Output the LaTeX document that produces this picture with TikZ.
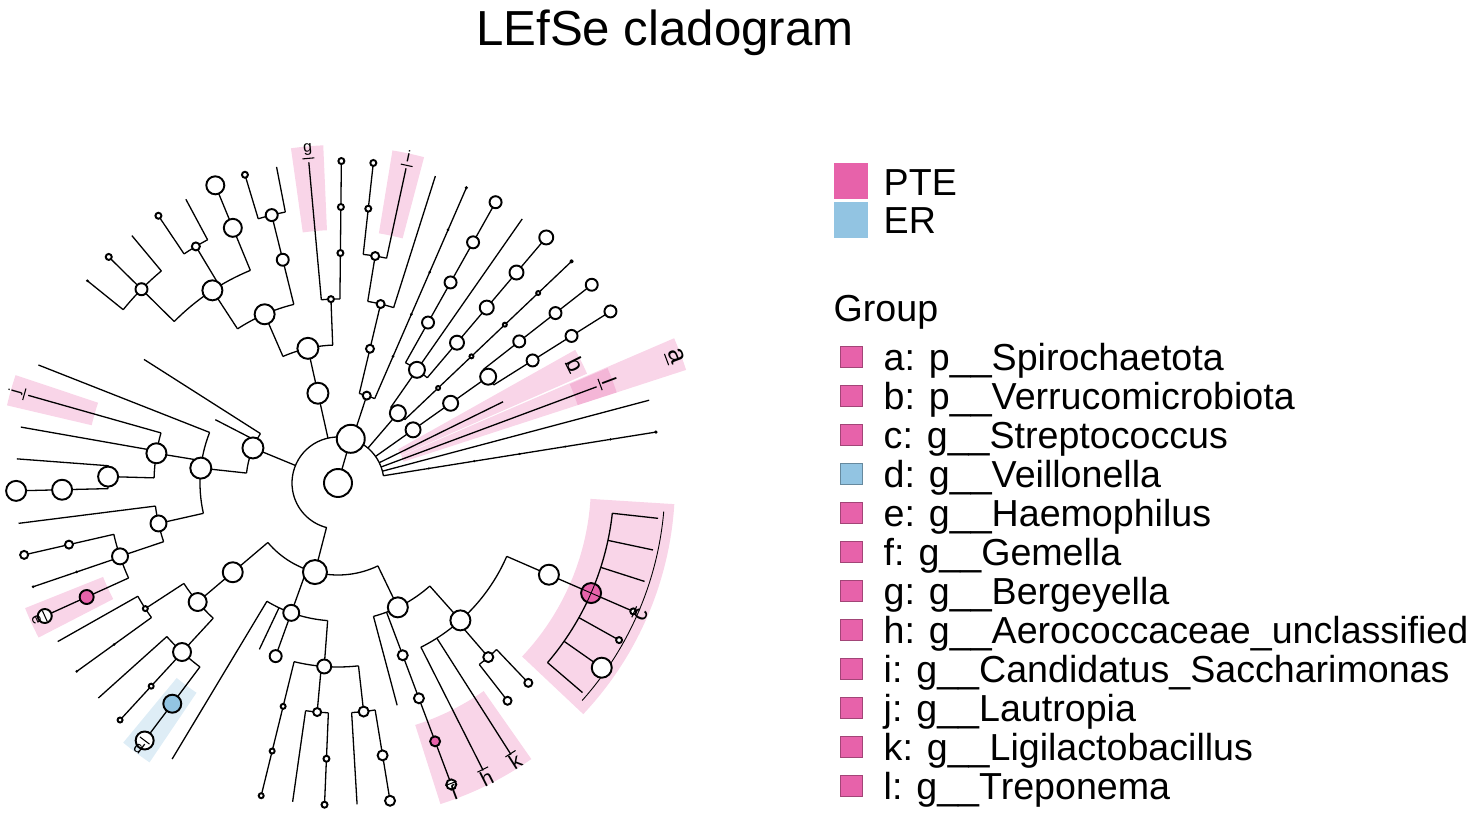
\documentclass[tikz,border=0pt]{standalone}
\usepackage{fontspec}
\setmainfont{Liberation Sans}
\definecolor{ptecol}{RGB}{231,98,170}
\definecolor{ercol}{RGB}{146,196,226}
\tikzset{
  cladeline/.style={line width=0.37pt},
  cladenode/.style={draw, line width=0.55pt, fill=white},
  cladetick/.style={line width=0.3pt},
  ptezone/.style={fill=ptecol, fill opacity=0.27},
  erzone/.style={fill=ercol, fill opacity=0.3},
  legendtext/.style={anchor=base west, inner sep=0pt, font=\fontsize{10.7}{12.8}\selectfont}
}
% annular sector behind a clade: start angle, end angle, inner radius, outer radius, style
\newcommand{\cladezone}[5]{%
  \fill[#5] (#1:#3) arc[start angle=#1, end angle=#2, radius=#3]
    -- (#2:#4) arc[start angle=#2, end angle=#1, radius=#4] -- cycle;}
% clade letter: angle, text radius, tick radius, letter, size
\newcommand{\cladeletter}[5]{%
  \draw[cladetick] (#1:#3) ++(#1+90:6) -- ++(#1-90:12);
  \node[rotate={#1>180 ? #1+90 : #1-90}, inner sep=0pt, font=\fontsize{#5}{#5}\selectfont] at (#1:#2) {#4};}
\begin{document}
\begin{tikzpicture}[x=0.1mm, y=0.1mm]
  \useasboundingbox (0,0) rectangle (1481,815);
  \node[anchor=base, inner sep=0pt, font=\fontsize{14}{16}\selectfont] (title) at (665,770) {LEfSe cladogram};

  \begin{scope}[shift={(338,332)}]
    % highlighted clades
    \cladezone{18}{23.3}{69}{366}{ptezone}
    \cladezone{23.7}{29.3}{69}{272}{ptezone}
    \cladezone{18}{23.1}{252}{293}{ptezone}
    \cladezone{316.7}{356.4}{253}{337}{ptezone}
    \cladezone{287.7}{305}{254}{337}{ptezone}
    \cladezone{201.8}{207.3}{253}{337}{ptezone}
    \cladezone{161.5}{166.8}{253}{340}{ptezone}
    \cladezone{92.5}{98}{253}{338}{ptezone}
    \cladezone{75.2}{80.7}{253}{337}{ptezone}
    \cladezone{230.4}{236}{253}{337}{erzone}

    % radial branches
    \foreach \a/\ra/\rb in {73.9/0/46,
      102.6/46/138, 113.5/138/184, 92.2/138/184, 95.2/184/322, 89.4/184/322,
      123.1/184/230, 103.9/184/276, 101/276/322, 106.8/276/322, 112.4/230/322,
      121/230/276, 118.2/276/322, 123.9/276/322, 135.4/230/322, 129.8/276/322, 141.1/276/322,
      157.6/46/92, 147.5/92/230, 152.7/92/138, 173.8/92/138, 158.5/138/322, 170.7/138/184,
      192.7/138/184, 164.2/184/322, 170/184/322, 178.4/184/230, 175.7/230/322, 181.4/230/322,
      187.2/184/322, 198.6/184/230, 192.9/230/322, 198.8/230/322, 204.4/230/322,
      255.5/46/92, 220.3/92/184, 250.2/92/184, 295.7/92/138, 213.1/184/230, 227.3/184/230,
      209.5/230/322, 215.8/230/322, 221.9/230/322, 227.4/230/322, 233.1/230/322,
      239/138/322, 244.7/138/184, 265.7/138/184, 256.2/184/322, 264.8/184/230, 276.4/184/230,
      261.9/230/322, 267.6/230/322, 273.4/230/322, 279.3/230/322,
      284.9/138/230, 290.6/138/322, 311.7/138/184, 296.8/184/322, 302.5/184/322,
      310.8/184/230, 336.5/184/322, 307.9/230/276, 313.6/230/276,
      319.4/276/322, 325/276/322, 330.8/276/322, 342.2/276/322, 348/276/322, 353.7/276/322,
      9.1/46/322, 14.9/46/322, 20.4/46/276, 26.2/46/184, 35.3/46/184, 32.2/184/322, 38/184/322,
      49.4/46/92, 43.5/92/322, 55.1/92/322, 49.7/138/322, 60.7/138/322,
      71.8/46/92, 66.5/92/322, 76.6/92/184, 72.4/184/322, 80.7/184/230, 77.8/230/322, 83.7/230/322}
      \draw[cladeline] (\a:\ra) -- (\a:\rb);

    % brackets
    \foreach \a/\b/\r in {9/256/46,
      92.1/113.5/138, 89.4/95.2/184, 103.9/123.1/184, 101/106.8/276, 112.4/135.4/230,
      118.2/123.9/276, 129.8/141.1/276,
      147.5/173.8/92, 158.5/192.7/138, 164.2/178.4/184, 175.7/181.4/230, 187.2/198.6/184, 192.9/204.4/230,
      220.3/295.7/92, 213.1/227.3/184, 209.5/215.8/230, 221.9/233.1/230, 239/265.7/138,
      256.2/276.4/184, 261.9/267.6/230, 273.4/279.3/230, 284.9/311.7/138, 296.8/336.5/184,
      307.9/313.6/230, 319.4/353.7/276,
      32.2/38/184, 43.5/55.1/92, 49.7/60.7/138, 66.5/76.6/92, 72.4/80.7/184, 77.8/83.7/230}
      \draw[cladeline] (\a:\r) arc[start angle=\a, end angle=\b, radius=\r];
    \draw[line width=0.25pt] (318.3:327) arc[start angle=318.3, end angle=355, radius=327];

    % taxa
    \foreach \a/\r/\s in {0/0/14, 73.9/46/14,
      102.6/92/10.5, 102.6/138/10.5, 113.5/184/10, 92.2/184/3, 89.4/230/3, 89.4/276/3, 89.4/322/3,
      123.1/230/10, 103.9/230/6, 103.9/276/6, 106.8/322/3, 112.4/276/9, 112.4/322/9,
      121/276/4, 123.9/322/3, 135.4/276/6, 135.4/322/3,
      157.6/92/10.5, 173.8/138/10.5, 170.7/184/10, 178.4/230/10, 181.4/276/10, 181.4/322/10,
      192.7/184/8, 198.6/230/8, 192.9/276/4, 192.9/322/4, 204.4/322/7,
      255.5/92/12, 220.3/138/10, 220.3/184/9, 213.1/230/2.5, 227.3/230/9, 227.4/276/2.5,
      227.4/322/2.5, 233.1/322/9, 250.2/138/8, 250.2/184/6, 265.7/184/7,
      256.2/230/2.5, 256.2/276/2.5, 256.2/322/2.5, 264.8/230/4, 267.6/276/3, 267.6/322/3,
      276.4/230/5, 279.3/276/5, 279.3/322/5, 295.7/138/10, 290.6/184/5, 290.6/230/5, 290.6/322/5,
      311.7/184/10, 310.8/230/5, 307.9/276/4, 313.6/276/4, 336.5/230/10,
      325/322/10, 330.8/322/3, 336.5/322/3,
      35.3/92/7.5, 35.3/138/7.5, 35.3/184/8, 32.2/230/6, 32.2/276/6, 32.2/322/6,
      38/230/6, 38/276/6, 38/322/6, 49.4/92/8, 55.1/138/8,
      49.7/184/7, 49.7/230/7, 49.7/276/7, 49.7/322/7, 60.7/184/6, 60.7/230/6, 60.7/276/6, 60.7/322/6,
      43.5/138/2, 43.5/184/2, 43.5/230/2, 43.5/276/2,
      71.8/92/4, 76.6/138/4, 76.6/184/4, 80.7/230/4, 83.7/276/3, 83.7/322/3}
      \draw[cladenode] (\a:\r) circle[radius=\s];
    \foreach \a/\r/\s in {141.1/322/1.5, 198.8/276/1.5, 198.8/322/1.5, 215.8/276/1.5, 215.8/322/1.5,
      9.1/92/1.2, 9.1/138/1.2, 9.1/184/1.2, 9.1/230/1.2, 9.1/276/1.2, 9.1/322/1.8, 43.5/322/2,
      66.5/138/1.5, 66.5/184/1.5, 66.5/230/1.5, 66.5/276/1.5, 66.5/322/1.8}
      \fill (\a:\r) circle[radius=\s];

    % enriched taxa
    \draw[cladenode, fill=ptecol] (204.4:276) circle[radius=7];
    \draw[cladenode, fill=ercol] (233.1:276) circle[radius=9];
    \draw[cladenode, fill=ptecol] (290.6:276) circle[radius=5];
    \draw[cladenode, fill=ptecol] (336.5:276) circle[radius=10];
    \draw[line width=0.25pt] (334.4:276) arc[start angle=334.4, end angle=338.6, radius=276];
    \draw[line width=0.25pt] (336.5:266) -- (336.5:286);

    % clade letters
    \cladeletter{20.6}{362}{351}{a}{7.5}
    \cladeletter{26.5}{266}{257}{b}{6.5}
    \cladeletter{336.5}{331}{323}{c}{6.5}
    \cladeletter{233.1}{331}{322}{d}{4.5}
    \cladeletter{204.4}{331}{322}{e}{4.5}
    \cladeletter{290.6}{330}{321}{f}{6}
    \cladeletter{95.2}{335}{326}{g}{4.5}
    \cladeletter{296.8}{330}{321}{h}{6}
    \cladeletter{77.8}{334}{325}{i}{4.5}
    \cladeletter{164.2}{335}{326}{j}{4.5}
    \cladeletter{302.5}{330}{321}{k}{6}
    \cladeletter{20.6}{290}{280}{l}{6}
  \end{scope}

  % legend
  \fill[ptecol] (833.5,616) rectangle (868.4,652);
  \node[legendtext] (pte) at (883,620) {PTE};
  \fill[ercol] (833.5,577) rectangle (868.4,613);
  \node[legendtext] (er) at (883,582) {ER};
  \node[legendtext] (group) at (833,494) {Group};
  \foreach \col/\txt [count=\i from 0] in {ptecol/{a: p\_\_Spirochaetota}, ptecol/{b: p\_\_Verrucomicrobiota},
      ptecol/{c: g\_\_Streptococcus}, ercol/{d: g\_\_Veillonella}, ptecol/{e: g\_\_Haemophilus},
      ptecol/{f: g\_\_Gemella}, ptecol/{g: g\_\_Bergeyella}, ptecol/{h: g\_\_Aerococcaceae\_unclassified},
      ptecol/{i: g\_\_Candidatus\_Saccharimonas}, ptecol/{j: g\_\_Lautropia},
      ptecol/{k: g\_\_Ligilactobacillus}, ptecol/{l: g\_\_Treponema}}{
    \filldraw[fill=\col, draw=\col!70!black, line width=0.3pt] (840.2,{447.5-39*\i}) rectangle (862.1,{468.5-39*\i});
    \node[legendtext] (item\i) at (883,{444.7-39*\i}) {\txt};
  }
\end{tikzpicture}
\end{document}
